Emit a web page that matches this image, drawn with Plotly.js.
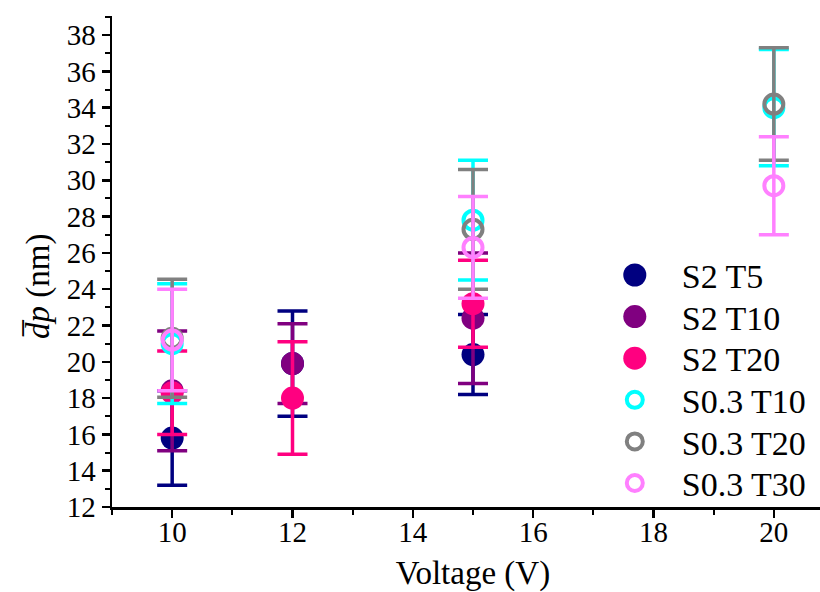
<!DOCTYPE html>
<html>
<head>
<meta charset="utf-8">
<script src="https://cdn.plot.ly/plotly-3.0.1.min.js"></script>
<style>
html, body { margin: 0; padding: 0; overflow: hidden; background: #fff; }
#chart { width: 834px; height: 592px; }
</style>
</head>
<body>
<div id="chart"></div>
<script>
// Series names and colours
const seriesNames = ["S2 T5", "S2 T10", "S2 T20", "S0.3 T10", "S0.3 T20", "S0.3 T30"];
const seriesColors = ["#000080", "#800080", "#ff0080", "#00ffff", "#808080", "#ff80ff"];

// Voltage (V) for each series
const xS2T5 = [10, 12, 15];
const xS2T10 = [10, 12, 15];
const xS2T20 = [10, 12, 15];
const xS03T10 = [10, 15, 20];
const xS03T20 = [10, 15, 20];
const xS03T30 = [10, 15, 20];

// Mean particle diameter dp (nm)
const yS2T5 = [15.8, 19.9, 20.4];
const yS2T10 = [18.4, 19.9, 22.4];
const yS2T20 = [18.3, 18.0, 23.2];
const yS03T10 = [21.0, 27.8, 34.0];
const yS03T20 = [21.3, 27.3, 34.2];
const yS03T30 = [21.2, 26.3, 29.7];

// Error (+/-) in nm
const eS2T5 = [2.6, 2.9, 2.2];
const eS2T10 = [3.3, 2.2, 3.6];
const eS2T20 = [2.3, 3.1, 2.4];
const eS03T10 = [3.3, 3.3, 3.2];
const eS03T20 = [3.25, 3.3, 3.1];
const eS03T30 = [2.8, 2.8, 2.7];

const xs = [xS2T5, xS2T10, xS2T20, xS03T10, xS03T20, xS03T30];
const ys = [yS2T5, yS2T10, yS2T20, yS03T10, yS03T20, yS03T30];
const es = [eS2T5, eS2T10, eS2T20, eS03T10, eS03T20, eS03T30];
const filled = [true, true, true, false, false, false];

const SERIF = "'Liberation Serif', 'Times New Roman', Times, serif";

const traces = seriesNames.map((name, i) => ({
  type: "scatter",
  mode: "markers",
  name: name,
  x: xs[i],
  y: ys[i],
  legendgroup: "g" + i,
  error_y: { type: "data", array: es[i], visible: true, color: seriesColors[i], thickness: 3.5, width: 15 },
  marker: filled[i]
    ? { symbol: "circle", size: 23, color: seriesColors[i], line: { width: 0 } }
    : { symbol: "circle-open", size: 19, color: seriesColors[i], line: { width: 4, color: seriesColors[i] } },
  cliponaxis: false
}));

const layout = {
  width: 834,
  height: 592,
  margin: { l: 112, r: 0, t: 16, b: 85 },
  paper_bgcolor: "#ffffff",
  plot_bgcolor: "#ffffff",
  font: { family: SERIF, color: "#000", size: 29 },
  showlegend: true,
  legend: {
    x: 0.659, y: 0.525, xanchor: "left", yanchor: "top",
    font: { size: 34, family: SERIF, color: "#000" },
    bgcolor: "rgba(0,0,0,0)",
    traceorder: "grouped",
    tracegroupgap: 0,
    itemwidth: 84
  },
  xaxis: {
    range: [9, 21],
    showgrid: false, zeroline: false,
    showline: true, linecolor: "#000", linewidth: 2.5,
    ticks: "outside", ticklen: 8, tickwidth: 2.5, tickcolor: "#000",
    tick0: 10, dtick: 2,
    minor: { dtick: 1, ticks: "outside", ticklen: 5, tickwidth: 2, tickcolor: "#000" },
    tickfont: { size: 29, family: SERIF },
    ticklabelstandoff: -10,
    title: { text: "Voltage (V)", font: { size: 33, family: SERIF }, standoff: 18 }
  },
  yaxis: {
    range: [12, 39.05],
    showgrid: false, zeroline: false,
    showline: true, linecolor: "#000", linewidth: 2.5,
    ticks: "outside", ticklen: 8, tickwidth: 2.5, tickcolor: "#000",
    tick0: 12, dtick: 2,
    minor: { dtick: 1, ticks: "outside", ticklen: 5, tickwidth: 2, tickcolor: "#000" },
    tickfont: { size: 29, family: SERIF }
  },
  annotations: [{
    text: "<i>d\u0305p</i> (nm)",
    textangle: -90,
    xref: "paper", yref: "paper",
    x: 0, y: 0.448, xshift: -74,
    xanchor: "center", yanchor: "middle",
    showarrow: false,
    font: { size: 33, family: SERIF, color: "#000" }
  }]
};

Plotly.newPlot("chart", traces, layout, { staticPlot: true, displayModeBar: false }).then(function (gd) {
  const items = Array.from(gd.querySelectorAll(".legend .traces"));
  // enlarge filled legend symbols
  items.forEach(function (it, idx) {
    if (idx < 3) {
      it.querySelectorAll(".legendpoints path").forEach(function (p) {
        const t = p.getAttribute("transform") || "";
        p.setAttribute("transform", t + " scale(1.44)");
      });
    }
  });
  // tighten legend row spacing
  const hostTop = gd.getBoundingClientRect().top;
  const firstRow = 275, rowGap = 41.6;
  items.forEach(function (it, idx) {
    const pts = it.querySelector(".legendpoints");
    if (!pts) return;
    const r = pts.getBoundingClientRect();
    const cy = (r.top + r.bottom) / 2 - hostTop;
    const dy = firstRow + idx * rowGap - cy;
    const t = it.getAttribute("transform") || "";
    it.setAttribute("transform", t + " translate(0," + dy.toFixed(2) + ")");
  });
});
</script>
</body>
</html>
